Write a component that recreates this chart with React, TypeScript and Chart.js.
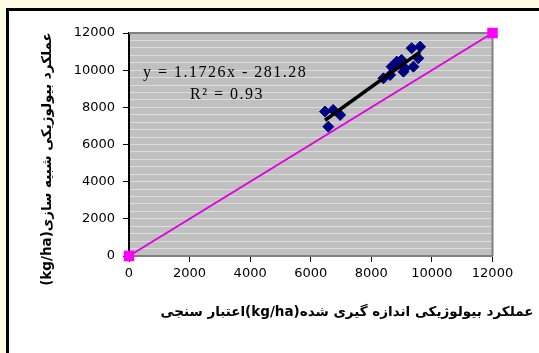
import React, { useEffect, useRef } from 'react';
import { Chart, registerables } from 'chart.js';

Chart.register(...registerables);

// Measured (x) vs simulated (y) biological yield, kg/ha
const MEASURED = [6470, 6740, 6970, 6580, 8400, 8620, 8670, 8840, 9000, 9060, 9110, 9390, 9550, 9330, 9610];
const SIMULATED = [7770, 7860, 7590, 6960, 9560, 9740, 10190, 10460, 10550, 9920, 10100, 10190, 10640, 11180, 11260];
const ONE_TO_ONE_X = [0, 12000];
const ONE_TO_ONE_Y = [0, 12000];
const TREND_SLOPE = 1.1726;
const TREND_INTERCEPT = -281.28;
const EQUATION_TEXT = 'y = 1.1726x - 281.28';
const R2_TEXT = 'R² = 0.93';
const X_TITLE = 'عملکرد بیولوژیکی اندازه گیری شده(kg/ha)اعتبار سنجی';
const Y_TITLE = 'عملکرد بیولوژیکی شبیه سازی(kg/ha)';
const AXIS_MIN = 0;
const AXIS_MAX = 12000;
const LABEL_STEP = 2000;
const GRID_STEP = 400;

const W = 539;
const H = 353;

export default function App() {
  const ref = useRef<HTMLCanvasElement | null>(null);

  useEffect(() => {
    document.body.style.margin = '0';
    const canvas = ref.current;
    if (!canvas) return;

    const minX = Math.min(...MEASURED);
    const maxX = Math.max(...MEASURED);
    const trend = [
      { x: minX, y: TREND_SLOPE * minX + TREND_INTERCEPT },
      { x: maxX, y: TREND_SLOPE * maxX + TREND_INTERCEPT },
    ];
    const points = MEASURED.map((x, i) => ({ x, y: SIMULATED[i] }));
    const diag = ONE_TO_ONE_X.map((x, i) => ({ x, y: ONE_TO_ONE_Y[i] }));

    const decor = {
      id: 'decor',
      beforeDraw(chart: any) {
        const { ctx, chartArea: a } = chart;
        ctx.save();
        ctx.fillStyle = '#c0c0c0';
        ctx.fillRect(a.left, a.top, a.right - a.left, a.bottom - a.top);
        ctx.restore();
      },
      beforeDatasetsDraw(chart: any) {
        const { ctx, chartArea: a } = chart;
        ctx.save();
        ctx.strokeStyle = '#808080';
        ctx.lineWidth = 2;
        ctx.beginPath();
        ctx.moveTo(a.left, a.top);
        ctx.lineTo(a.right, a.top);
        ctx.lineTo(a.right, a.bottom);
        ctx.stroke();
        ctx.restore();
      },
      afterDraw(chart: any) {
        const { ctx } = chart;
        ctx.save();
        ctx.fillStyle = '#000';
        // trendline equation
        ctx.font = '16px "Liberation Serif", "Times New Roman", serif';
        (ctx as any).letterSpacing = '1.5px';
        ctx.textBaseline = 'middle';
        ctx.textAlign = 'left';
        ctx.fillText(EQUATION_TEXT, 143, 73);
        ctx.textAlign = 'center';
        ctx.fillText(R2_TEXT, 227, 95);
        (ctx as any).letterSpacing = '0px';
        // axis titles
        ctx.direction = 'rtl';
        ctx.font = 'bold 13.5px "DejaVu Sans", sans-serif';
        ctx.textAlign = 'center';
        ctx.fillText(X_TITLE, 347, 312);
        ctx.translate(47, 159);
        ctx.rotate(-Math.PI / 2);
        ctx.font = 'bold 13.5px "DejaVu Sans", sans-serif';
        ctx.fillText(Y_TITLE, 0, 0);
        ctx.restore();
      },
    };

    const tickFont = { family: '"DejaVu Sans", sans-serif', size: 13 };

    const chart = new Chart(canvas, {
      type: 'scatter',
      data: {
        datasets: [
          {
            label: 'trend',
            data: trend,
            showLine: true,
            borderColor: '#000',
            borderWidth: 3.5,
            pointRadius: 0,
            clip: false,
          } as any,
          {
            label: 'simulated',
            data: points,
            pointStyle: 'rectRot',
            pointRadius: 5.5,
            backgroundColor: '#000080',
            borderColor: '#000080',
            borderWidth: 1,
            clip: false,
          },
          {
            label: '1:1',
            data: diag,
            showLine: true,
            borderColor: '#e000e0',
            borderWidth: 2,
            pointStyle: 'rect',
            pointRadius: 6,
            backgroundColor: '#ff00ff',
            pointBorderColor: '#ff00ff',
            clip: false,
          } as any,
        ],
      },
      options: {
        responsive: false,
        animation: false,
        layout: { padding: { left: 0, top: 33, right: W - 492.5, bottom: 0 } },
        plugins: { legend: { display: false }, tooltip: { enabled: false } },
        scales: {
          x: {
            type: 'linear',
            min: AXIS_MIN,
            max: AXIS_MAX,
            afterFit(scale: any) {
              scale.height = H - 256;
            },
            ticks: {
              stepSize: LABEL_STEP,
              color: '#000',
              font: tickFont,
              padding: 4,
              maxRotation: 0,
              autoSkip: false,
              callback: (v: any) => String(v),
            },
            grid: {
              drawOnChartArea: false,
              drawTicks: true,
              tickLength: 6,
              tickColor: '#000',
              tickWidth: 1,
            },
            border: { color: '#808080', width: 2 },
          },
          y: {
            type: 'linear',
            min: AXIS_MIN,
            max: AXIS_MAX,
            afterFit(scale: any) {
              scale.width = 129;
            },
            ticks: {
              stepSize: GRID_STEP,
              autoSkip: false,
              color: '#000',
              font: tickFont,
              padding: 8,
              callback: (v: any) => (Number(v) % LABEL_STEP === 0 ? String(v) : ''),
            },
            grid: {
              color: '#dcdcdc',
              lineWidth: 1,
              tickLength: 6,
              tickColor: (c: any) =>
                c.tick && c.tick.value % LABEL_STEP === 0 ? '#000' : 'rgba(0,0,0,0)',
            },
            border: { color: '#000', width: 2 },
          },
        },
      },
      plugins: [decor],
    });

    return () => chart.destroy();
  }, []);

  return (
    <div style={{ position: 'relative', width: W, height: H, background: '#fffbe2', overflow: 'hidden' }}>
      <div
        style={{
          position: 'absolute',
          left: 6,
          top: 8,
          width: W,
          height: H,
          background: '#fff',
          borderTop: '3px solid #000',
          borderLeft: '3px solid #000',
        }}
      />
      <canvas ref={ref} width={W} height={H} style={{ position: 'absolute', left: 0, top: 0, width: W, height: H }} />
    </div>
  );
}
